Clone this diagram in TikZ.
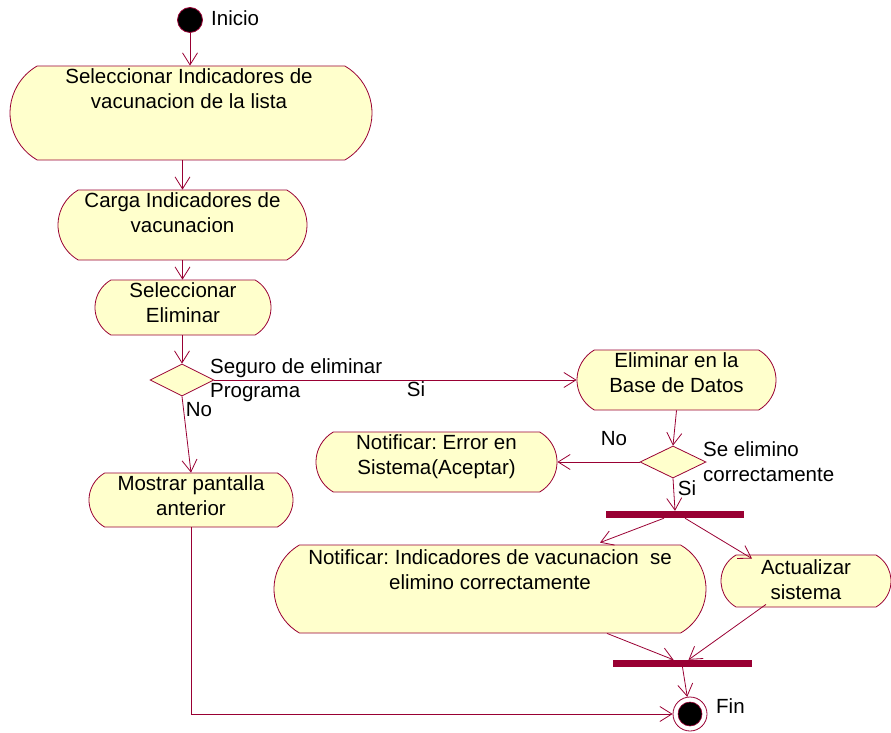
\documentclass[tikz,border=0pt]{standalone}
\usepackage{fontspec}
\setmainfont{Liberation Sans}
\usetikzlibrary{shapes.misc,shapes.geometric,arrows.meta}
\definecolor{lc}{RGB}{153,0,51}
\definecolor{fc}{RGB}{255,255,204}
\frenchspacing
\begin{document}
\begin{tikzpicture}[x=1pt,y=-1pt,
  every node/.style={font=\fontsize{20.5}{25}\selectfont},
  act/.style={rounded rectangle, rounded rectangle arc length=120, draw=lc, fill=fc, inner sep=0pt, line width=0.8pt},
  acttext/.style={anchor=north, align=center, inner sep=0pt, yshift=-2.5pt},
  dec/.style={diamond, draw=lc, fill=fc, inner sep=0pt, line width=0.8pt},
  bar/.style={rectangle, fill=lc, inner sep=0pt},
  arr/.style={draw=lc, line width=0.8pt, -{Straight Barb[length=12pt,width=15pt,line width=0.8pt]}},
  lbl/.style={inner sep=0pt}]
\useasboundingbox (0,0) rectangle (891,733);

% start
\node[circle, fill=black, draw=lc, line width=0.8pt, minimum size=25pt, inner sep=0pt] (start) at (190,20) {};
\node[lbl, anchor=west] (linicio) at (211,18) {Inicio};

% activities
\node[act, minimum width=362pt, minimum height=94pt] (a1) at (191,113) {};
\node[acttext, xshift=-2pt] (a1t) at (a1.north) {Seleccionar Indicadores de\\vacunacion de la lista};

\node[act, minimum width=249pt, minimum height=70pt] (a2) at (182.5,225) {};
\node[acttext] (a2t) at (a2.north) {Carga Indicadores de\\vacunacion};

\node[act, minimum width=176pt, minimum height=55pt] (a3) at (183,307.5) {};
\node[acttext] (a3t) at (a3.north) {Seleccionar\\Eliminar};

\node[dec, minimum width=64pt, minimum height=32pt] (d1) at (182,380) {};

\node[act, minimum width=199pt, minimum height=60pt] (a4) at (676.5,380) {};
\node[acttext] (a4t) at (a4.north) {Eliminar en la\\Base de Datos};

\node[dec, minimum width=66pt, minimum height=32pt] (d2) at (673,462) {};

\node[act, minimum width=241pt, minimum height=60pt] (a5) at (436.5,462) {};
\node[acttext] (a5t) at (a5.north) {Notificar: Error en\\Sistema(Aceptar)};

\node[act, minimum width=204pt, minimum height=54pt] (a8) at (191,500) {};
\node[acttext] (a8t) at (a8.north) {Mostrar pantalla\\anterior};

\node[bar, minimum width=138pt, minimum height=7pt] (fork) at (675,514.5) {};

\node[act, minimum width=432pt, minimum height=88pt] (a6) at (490,589) {};
\node[acttext, yshift=-2pt] (a6t) at (a6.north) {Notificar: Indicadores de vacunacion\ \ se\\elimino correctamente};

\node[act, minimum width=170pt, minimum height=52pt] (a7) at (806,581) {};
\node[acttext, yshift=-2pt] (a7t) at (a7.north) {Actualizar\\sistema};

\node[bar, minimum width=139pt, minimum height=7pt] (join) at (682.5,663.5) {};

% end
\node[circle, draw=lc, fill=white, line width=0.8pt, minimum size=34pt, inner sep=0pt] (fin) at (690,714) {};
\node[circle, fill=black, draw=lc, line width=0.6pt, minimum size=24pt, inner sep=0pt] (fininner) at (fin.center) {};
\node[lbl, anchor=west] (lfin) at (716,706) {Fin};

% labels
\node[lbl, anchor=west] (lseg1) at (210,368) {Seguro de eliminar};
\node[lbl, anchor=west] (lseg2) at (210,393) {Programa};
\node[lbl] (lsi1) at (416,389) {Si};
\node[lbl] (lno1) at (199,410) {No};
\node[lbl] (lno2) at (614,439) {No};
\node[lbl, anchor=west] (lse1) at (703,449) {Se elimino};
\node[lbl, anchor=west] (lse2) at (703,475) {correctamente};
\node[lbl] (lsi2) at (687,488) {Si};

% connectors
\draw[arr] (start) -- (a1.north -| start);
\draw[arr] (a2.north |- a1.south) -- (a2.north);
\draw[arr] (a2.south) -- (a3.north -| a2.south);
\draw[arr] (d1.north |- a3.south) -- (d1.north);
\draw[arr] (d1.south) -- (a8.north);
\draw[arr] (d1.east) -- (a4.west);
\draw[arr] (a4.south) -- (d2.north);
\draw[arr] (d2.west) -- (a5.east);
\draw[arr] (d2.south) -- (fork.north);
\draw[arr] ([xshift=-11pt]fork.south) -- ([xshift=110pt,yshift=2pt]a6.north);
\draw[arr] ([xshift=10pt]fork.south) -- ([xshift=-54pt,yshift=-4pt]a7.north);
\draw[arr] ([xshift=117pt]a6.south) -- ([xshift=-9pt]join.north);
\draw[arr] ([xshift=-40pt,yshift=3pt]a7.south) -- ([xshift=6pt]join.north);
\draw[arr] (join.south) -- (fin);
\draw[arr] (a8.south) |- (fin.west);
\end{tikzpicture}
\end{document}
